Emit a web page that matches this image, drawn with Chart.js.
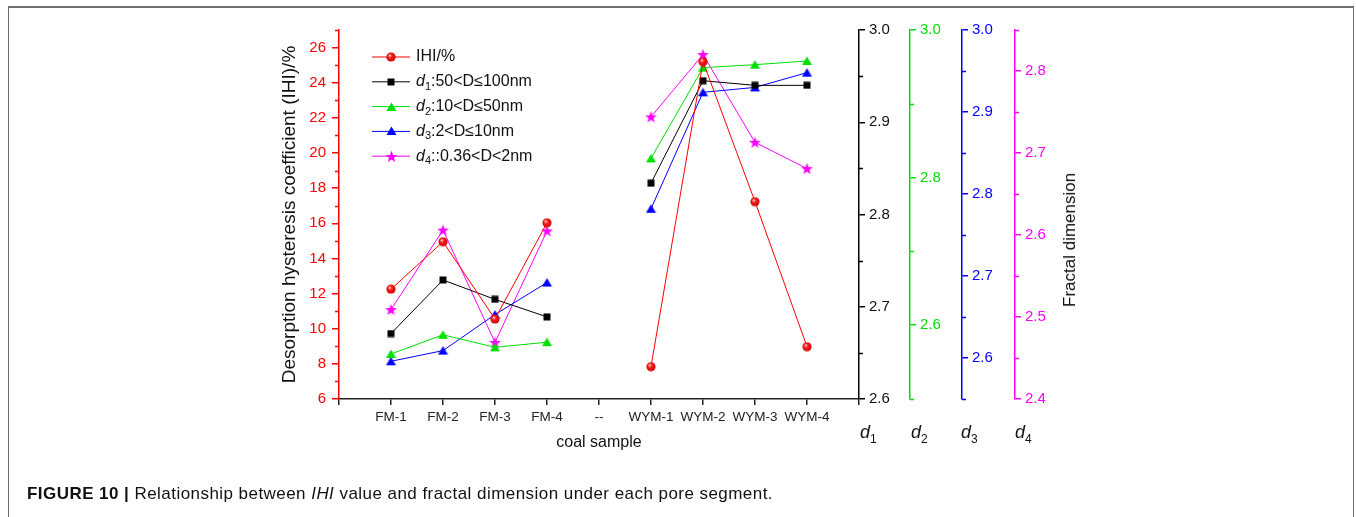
<!DOCTYPE html>
<html lang="en">
  <head>
    <meta charset="UTF-8" />
    <title>IHI and fractal dimension</title>
    <script src="https://cdn.jsdelivr.net/npm/chart.js@4/dist/chart.umd.min.js"></script>
    <style>
      body { margin: 0; background: #fff; font-family: "Liberation Sans", Arial, sans-serif; }
      #wrap { position: relative; width: 1356px; height: 517px; overflow: hidden; background: #fff; }
      #frame { position: absolute; left: 8px; top: 6px; width: 1346px; height: 600px; box-sizing: border-box;
               border: 1px solid #707070; border-top-width: 2px; }
      #myChart { position: absolute; left: 0; top: 0; }
      .dlab { position: absolute; top: 422px; font-size: 18px; color: #111; }
      .dlab sub { font-size: 12px; font-style: normal; vertical-align: -5px; }
      #fractal { position: absolute; left: 1070px; top: 240px; transform: translate(-50%, -50%) rotate(-90deg);
                 white-space: nowrap; font-size: 17px; color: #111; }
      #caption { position: absolute; left: 27px; top: 484px; font-size: 17px; letter-spacing: 0.45px; color: #111; white-space: nowrap; }
    </style>
  </head>

  <body>
    <div id="wrap">
      <div id="frame"></div>
      <canvas id="myChart" width="1356" height="517"></canvas>
      <span class="dlab" style="left: 860px"><i>d</i><sub>1</sub></span>
      <span class="dlab" style="left: 911px"><i>d</i><sub>2</sub></span>
      <span class="dlab" style="left: 961px"><i>d</i><sub>3</sub></span>
      <span class="dlab" style="left: 1015px"><i>d</i><sub>4</sub></span>
      <div id="fractal">Fractal dimension</div>
      <div id="caption"><b>FIGURE 10 |</b> Relationship between <i>IHI</i> value and fractal dimension under each pore segment.</div>
    </div>
    <script>
      // muestras de carbon (el "--" es solo un hueco)
      var muestras = ["FM-1", "FM-2", "FM-3", "FM-4", "--", "WYM-1", "WYM-2", "WYM-3", "WYM-4"];
      var ihi = [12.25, 14.95, 10.55, 16.03, null, 7.84, 25.2, 17.23, 8.98];
      var d1 = [2.671, 2.729, 2.708, 2.689, null, 2.834, 2.945, 2.94, 2.94];
      var d2 = [2.561, 2.587, 2.57, 2.577, null, 2.826, 2.949, 2.953, 2.958];
      var d3 = [2.596, 2.609, 2.653, 2.692, null, 2.782, 2.924, 2.93, 2.948];
      var d4 = [2.509, 2.606, 2.469, 2.605, null, 2.744, 2.82, 2.713, 2.681];
      var nombres = ["IHI/%", "d1:50<D\u2264100nm", "d2:10<D\u226450nm", "d3:2<D\u226410nm", "d4::0.36<D<2nm"];

      // ticks de cada eje
      var ticksY = [6, 8, 10, 12, 14, 16, 18, 20, 22, 24, 26];
      var menoresY = [7, 9, 11, 13, 15, 17, 19, 21, 23, 25, 27];
      var ticksD1 = [2.6, 2.7, 2.8, 2.9, 3.0];
      var menoresD1 = [2.65, 2.75, 2.85, 2.95];
      var ticksD2 = [2.6, 2.8, 3.0];
      var menoresD2 = [2.5, 2.7, 2.9];
      var ticksD3 = [2.6, 2.7, 2.8, 2.9, 3.0];
      var menoresD3 = [2.55, 2.65, 2.75, 2.85, 2.95];
      var ticksD4 = [2.4, 2.5, 2.6, 2.7, 2.8];
      var menoresD4 = [2.45, 2.55, 2.65, 2.75, 2.85];

      Chart.defaults.font.family = "'Liberation Sans', Arial, sans-serif";

      // marcadores dibujados a mano
      function lienzo(w, h, dibuja) {
        var c = document.createElement("canvas");
        c.width = w;
        c.height = h;
        dibuja(c.getContext("2d"), w, h);
        return c;
      }
      var bola = lienzo(10, 10, function (ctx) {
        var g = ctx.createRadialGradient(3.6, 3.4, 0.5, 5, 5, 5);
        g.addColorStop(0, "#ffc0c0");
        g.addColorStop(0.35, "#ff1a1a");
        g.addColorStop(1, "#c80000");
        ctx.fillStyle = g;
        ctx.beginPath();
        ctx.arc(5, 5, 4.6, 0, Math.PI * 2);
        ctx.fill();
      });
      var cuadro = lienzo(8, 8, function (ctx) {
        ctx.fillStyle = "#000";
        ctx.fillRect(0.5, 0.5, 7, 7);
      });
      function triangulo(color) {
        return lienzo(11, 10, function (ctx) {
          ctx.fillStyle = color;
          ctx.beginPath();
          ctx.moveTo(5.5, 0.5);
          ctx.lineTo(10.5, 9);
          ctx.lineTo(0.5, 9);
          ctx.closePath();
          ctx.fill();
        });
      }
      var estrella = lienzo(13, 13, function (ctx) {
        ctx.fillStyle = "#ff00ff";
        ctx.beginPath();
        for (var i = 0; i < 10; i++) {
          var r = i % 2 == 0 ? 6.2 : 2.6;
          var a = -Math.PI / 2 + (i * Math.PI) / 5;
          ctx.lineTo(6.5 + r * Math.cos(a), 7 + r * Math.sin(a));
        }
        ctx.closePath();
        ctx.fill();
      });

      function puntos(arr) {
        var data = [];
        for (i = 0; i < arr.length; i++) {
          data.push({ x: i, y: arr[i] });
        }
        return data;
      }

      // ticks menores (Chart.js no los tiene)
      var menores = { y: menoresY, d1: menoresD1, d2: menoresD2, d3: menoresD3, d4: menoresD4 };
      var ticksMenores = {
        id: "ticksMenores",
        afterDraw(chart) {
          var ctx = chart.ctx;
          for (var id in menores) {
            var s = chart.scales[id];
            ctx.save();
            ctx.strokeStyle = s.options.border.color;
            ctx.lineWidth = 1.5;
            menores[id].forEach(function (v) {
              var y = Math.round(s.getPixelForValue(v)) + 0.5;
              ctx.beginPath();
              if (s.position == "left") {
                ctx.moveTo(s.right, y);
                ctx.lineTo(s.right - 4, y);
              } else {
                ctx.moveTo(s.left, y);
                ctx.lineTo(s.left + 4, y);
              }
              ctx.stroke();
            });
            ctx.restore();
          }
        },
      };

      // leyenda con linea + marcador y subindices
      var leyenda = {
        id: "leyenda",
        afterDraw(chart) {
          var ctx = chart.ctx;
          var x0 = chart.chartArea.left + 33;
          var y0 = chart.chartArea.top + 27;
          chart.data.datasets.forEach(function (ds, i) {
            var y = y0 + i * 24.8;
            ctx.save();
            ctx.strokeStyle = ds.borderColor;
            ctx.lineWidth = 1;
            ctx.beginPath();
            ctx.moveTo(x0, y);
            ctx.lineTo(x0 + 38, y);
            ctx.stroke();
            var img = ds.pointStyle;
            ctx.drawImage(img, Math.round(x0 + 19 - img.width / 2), Math.round(y - img.height / 2));
            ctx.fillStyle = "#111";
            ctx.textBaseline = "middle";
            var tx = x0 + 44;
            var m = ds.label.match(/^d(\d)(.*)$/);
            if (m) {
              ctx.font = "italic 16px 'Liberation Sans', Arial";
              ctx.fillText("d", tx, y);
              tx += ctx.measureText("d").width;
              ctx.font = "11px 'Liberation Sans', Arial";
              ctx.fillText(m[1], tx, y + 5);
              tx += ctx.measureText(m[1]).width;
              ctx.font = "16px 'Liberation Sans', Arial";
              ctx.fillText(m[2], tx, y);
            } else {
              ctx.font = "16px 'Liberation Sans', Arial";
              ctx.fillText(ds.label, tx, y);
            }
            ctx.restore();
          });
        },
      };

      function serie(label, arr, color, marca, eje) {
        return {
          label: label,
          data: puntos(arr),
          borderColor: color,
          backgroundColor: color,
          borderWidth: 1,
          pointStyle: marca,
          yAxisID: eje,
          spanGaps: false,
        };
      }

      function ejeDerecho(color, min, max, ticks, ancho, peso) {
        return {
          type: "linear",
          position: "right",
          min: min,
          max: max,
          weight: peso,
          afterBuildTicks: function (axis) {
            axis.ticks = ticks.map(function (v) {
              return { value: v };
            });
          },
          afterFit: function (axis) {
            axis.width = ancho;
          },
          border: { color: color, width: 1.5 },
          grid: { drawOnChartArea: false, color: color, lineWidth: 1.5, tickLength: 6 },
          ticks: {
            color: color == "#000000" ? "#111" : color,
            font: { size: 15 },
            padding: 4,
            callback: function (v) {
              return v.toFixed(1);
            },
          },
        };
      }

      var grafica = new Chart(document.getElementById("myChart"), {
        type: "line",
        data: {
          datasets: [
            serie(nombres[0], ihi, "#ff0000", bola, "y"),
            serie(nombres[1], d1, "#000000", cuadro, "d1"),
            serie(nombres[2], d2, "#00e000", triangulo("#00e000"), "d2"),
            serie(nombres[3], d3, "#0000ff", triangulo("#0000ff"), "d3"),
            serie(nombres[4], d4, "#ff00ff", estrella, "d4"),
          ],
        },
        options: {
          responsive: false,
          animation: false,
          layout: { padding: { left: 270, right: 296, top: 30, bottom: 58 } },
          plugins: { legend: { display: false }, tooltip: { enabled: false } },
          scales: {
            x: {
              type: "linear",
              min: -1,
              max: 9,
              afterBuildTicks: function (axis) {
                var t = [];
                for (var v = -1; v <= 9; v++) t.push({ value: v });
                axis.ticks = t;
              },
              afterFit: function (axis) {
                axis.height = 60;
              },
              border: { color: "#222", width: 1.5 },
              grid: { drawOnChartArea: false, color: "#222", lineWidth: 1.5, tickLength: 6 },
              ticks: {
                autoSkip: false,
                maxRotation: 0,
                color: "#222",
                font: { size: 13.5 },
                padding: 4,
                callback: function (v) {
                  return muestras[v] || "";
                },
              },
              title: {
                display: true,
                text: "coal sample",
                color: "#111",
                font: { size: 16 },
                padding: { top: 0, bottom: 6.4 },
              },
            },
            y: {
              type: "linear",
              position: "left",
              min: 6,
              max: 27,
              afterBuildTicks: function (axis) {
                axis.ticks = ticksY.map(function (v) {
                  return { value: v };
                });
              },
              afterFit: function (axis) {
                axis.width = 69;
              },
              border: { color: "#ff0000", width: 1.5 },
              grid: { drawOnChartArea: false, color: "#ff0000", lineWidth: 1.5, tickLength: 7 },
              ticks: { color: "#ff0000", font: { size: 15 }, padding: 6 },
              title: {
                display: true,
                text: "Desorption hysteresis coefficient (IHI)/%",
                color: "#111",
                font: { size: 19 },
                padding: { top: 8.6, bottom: 0 },
              },
            },
            d1: ejeDerecho("#000000", 2.6, 3.0, ticksD1, 51, 1),
            d2: ejeDerecho("#00e000", 2.5, 3.0, ticksD2, 52, 2),
            d3: ejeDerecho("#0000ff", 2.55, 3.0, ticksD3, 53, 3),
            d4: ejeDerecho("#ff00ff", 2.4, 2.85, ticksD4, 45, 4),
          },
        },
        plugins: [ticksMenores, leyenda],
      });
    </script>
  </body>
</html>
